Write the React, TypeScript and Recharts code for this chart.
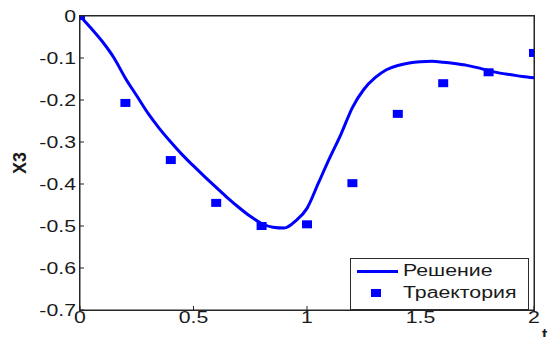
import React from 'react';
import { ComposedChart, Line, Scatter, XAxis, YAxis, Legend, ReferenceArea } from 'recharts';

const solutionT = [0, 0.05, 0.1, 0.15, 0.2, 0.25, 0.3, 0.35, 0.4, 0.45, 0.5, 0.55, 0.6, 0.65, 0.7, 0.75, 0.8, 0.85, 0.9, 0.95, 1.0, 1.05, 1.1, 1.15, 1.2, 1.25, 1.3, 1.35, 1.4, 1.45, 1.5, 1.55, 1.6, 1.65, 1.7, 1.75, 1.8, 1.85, 1.9, 1.95, 2.0];
const solutionX3 = [0, -0.03, -0.062, -0.1, -0.148, -0.19, -0.232, -0.268, -0.3, -0.33, -0.357, -0.383, -0.408, -0.433, -0.456, -0.477, -0.494, -0.503, -0.505, -0.488, -0.458, -0.398, -0.338, -0.281, -0.218, -0.175, -0.147, -0.128, -0.118, -0.112, -0.109, -0.108, -0.11, -0.113, -0.117, -0.123, -0.13, -0.136, -0.14, -0.144, -0.147];

const trajT = [0, 0.2, 0.4, 0.6, 0.8, 1.0, 1.2, 1.4, 1.6, 1.8, 2.0];
const trajX3 = [0, -0.207, -0.343, -0.445, -0.5, -0.496, -0.398, -0.233, -0.16, -0.134, -0.088];

const xTicks = [0, 0.5, 1, 1.5, 2];
const yTicks = [0, -0.1, -0.2, -0.3, -0.4, -0.5, -0.6, -0.7];
const xDomain: [number, number] = [0, 2];
const yDomain: [number, number] = [-0.7, 0];

const seriesNames = ['Решение', 'Траектория'];
const xLabel = 't';
const yLabel = 'X3';

const solutionData = solutionT.map((t, i) => ({ t, v: solutionX3[i] }));
const trajData = trajT.map((t, i) => ({ t, v: trajX3[i] }));

const W = 550;
const H = 337;
const MARGIN = { top: 16, right: 16, bottom: 0, left: 0 };
const Y_W = 80;
const X_H = 27;

const FONT = '"Liberation Sans", Arial, sans-serif';
const SX = 1.33;
const BLUE = '#0000ff';
const AXIS = '#262626';
const TL = 4;

const fmtY = (v: number) => (v === 0 ? '0' : v.toFixed(1));
const fmtX = (v: number) => String(v);

// left axis: x is the axis line position
const YTick = (props: any) => {
  const { x, y, payload } = props;
  return (
    <g>
      <rect x={x} y={y - 0.5} width={TL} height={1} fill={AXIS} />
      <text x={0} y={0} transform={`translate(${x - 4},${y}) scale(${SX},1)`} textAnchor="end" dy="0.36em"
        fontFamily={FONT} fontSize={16} fill="#1a1a1a" stroke="none">{fmtY(payload.value)}</text>
    </g>
  );
};

// bottom axis: y is the axis line position
const XTick = (props: any) => {
  const { x, y, payload } = props;
  return (
    <g>
      <rect x={x - 0.5} y={y - TL} width={1} height={TL} fill={AXIS} />
      <text x={0} y={0} transform={`translate(${x},${y + 2}) scale(${SX},1)`} textAnchor="middle" dy="0.71em"
        fontFamily={FONT} fontSize={16} fill="#1a1a1a" stroke="none">{fmtX(payload.value)}</text>
    </g>
  );
};

const TopTick = (props: any) => {
  const { x, y } = props;
  return <rect x={x - 0.5} y={y} width={1} height={TL} fill={AXIS} />;
};

const RightTick = (props: any) => {
  const { x, y } = props;
  return <rect x={x - TL} y={y - 0.5} width={TL} height={1} fill={AXIS} />;
};

const FrameShape = (props: any) => {
  const { x, y, width, height } = props;
  if (x == null || y == null) return <g />;
  return (
    <g>
      <rect x={x - 0.5} y={y - 0.5} width={width + 1} height={1} fill={AXIS} />
      <rect x={x - 0.5} y={y + height - 0.5} width={width + 1} height={1} fill={AXIS} />
      <rect x={x - 0.5} y={y - 0.5} width={1} height={height + 1} fill={AXIS} />
      <rect x={x + width - 0.5} y={y - 0.5} width={1} height={height + 1} fill={AXIS} />
    </g>
  );
};

const SquareShape = (props: any) => {
  const { cx, cy } = props;
  if (cx == null || cy == null) return null;
  return <rect x={cx - 5} y={cy - 4} width={10} height={8} fill={BLUE} />;
};

const NoShape = () => <g />;

const LegendBox = () => (
  <div style={{ position: 'absolute', left: 0, top: 0, width: 179, height: 52, boxSizing: 'border-box', border: '1px solid #2b2b2b', background: '#fff', fontFamily: FONT, fontSize: 16, color: '#1a1a1a' }}>
    <div style={{ position: 'absolute', left: 6, top: 11, width: 41, height: 3, background: BLUE }} />
    <div style={{ position: 'absolute', left: 52, top: 2, lineHeight: '20px', transform: `scaleX(${SX})`, transformOrigin: 'left center', whiteSpace: 'nowrap' }}>{seriesNames[0]}</div>
    <div style={{ position: 'absolute', left: 20, top: 30, width: 10, height: 8, background: BLUE }} />
    <div style={{ position: 'absolute', left: 52, top: 24, lineHeight: '20px', transform: `scaleX(${SX})`, transformOrigin: 'left center', whiteSpace: 'nowrap' }}>{seriesNames[1]}</div>
  </div>
);

const plotLeft = MARGIN.left + Y_W;
const plotTop = MARGIN.top;
const plotW = W - plotLeft - MARGIN.right;
const plotH = H - plotTop - MARGIN.bottom - X_H;

export default function App() {
  return (
    <div style={{ position: 'absolute', left: 0, top: 0, width: W, height: H, background: '#fff' }}>
      <ComposedChart width={W} height={H} margin={MARGIN}>
        <XAxis xAxisId={0} dataKey="t" type="number" domain={xDomain} ticks={xTicks} height={X_H}
          axisLine={false} tickLine={false} tickSize={0} tickMargin={0}
          tick={<XTick />} interval={0} allowDataOverflow
          label={{ content: (p: any) => {
            const vb = p.viewBox || {};
            return <text x={vb.x + vb.width + 8} y={vb.y + 30} fontFamily={FONT} fontWeight="bold" fontSize={16} fill="#1a1a1a">{xLabel}</text>;
          } }} />
        <XAxis xAxisId="top" orientation="top" dataKey="t" type="number" domain={xDomain} ticks={xTicks} height={0}
          axisLine={false} tickLine={false} tickSize={0} tickMargin={0} tick={<TopTick />} interval={0} allowDataOverflow />
        <YAxis yAxisId={0} dataKey="v" type="number" domain={yDomain} ticks={yTicks} width={Y_W}
          axisLine={false} tickLine={false} tickSize={0} tickMargin={0}
          tick={<YTick />} interval={0} allowDataOverflow
          label={{ content: (p: any) => {
            const vb = p.viewBox || {};
            const cx = vb.x + 20;
            const cy = vb.y + vb.height / 2;
            return <text x={cx} y={cy} transform={`rotate(-90,${cx},${cy})`} textAnchor="middle" dominantBaseline="central" fontFamily={FONT} fontWeight="bold" fontSize={18} fill="#1a1a1a">{yLabel}</text>;
          } }} />
        <YAxis yAxisId="right" orientation="right" dataKey="v" type="number" domain={yDomain} ticks={yTicks} width={0}
          axisLine={false} tickLine={false} tickSize={0} tickMargin={0} tick={<RightTick />} interval={0} allowDataOverflow />
        <ReferenceArea x1={xDomain[0]} x2={xDomain[1]} y1={yDomain[0]} y2={yDomain[1]} shape={(p: any) => <FrameShape {...p} />} />
        <Scatter data={trajData} dataKey="v" xAxisId="top" yAxisId="right" shape={<NoShape />} isAnimationActive={false} legendType="none" />
        <Line data={solutionData} dataKey="v" type="monotone" stroke={BLUE} strokeWidth={3} dot={false}
          activeDot={false} isAnimationActive={false} name={seriesNames[0]} />
        <Scatter data={trajData} dataKey="v" fill={BLUE} shape={<SquareShape />} isAnimationActive={false} name={seriesNames[1]} />
        <Legend content={<LegendBox />} wrapperStyle={{ position: 'absolute', left: 350, top: 258, width: 0, height: 0, overflow: 'visible' }} />
      </ComposedChart>
      <div style={{ position: 'absolute', left: plotLeft - 1, top: plotTop - 1, width: plotW, height: plotH, border: `1px solid ${AXIS}`, pointerEvents: 'none' }} />
    </div>
  );
}
